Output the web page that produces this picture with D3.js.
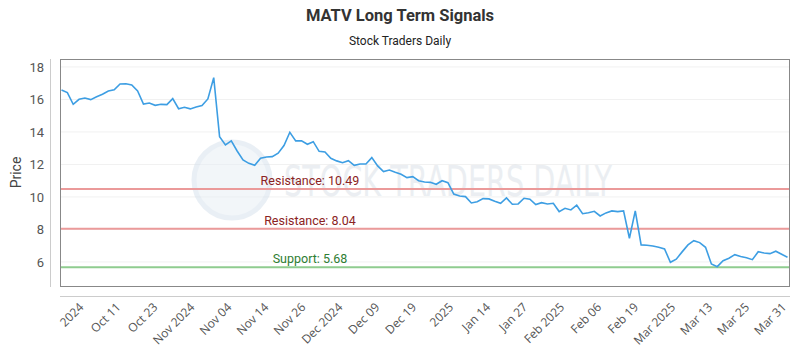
<!DOCTYPE html>
<html>
<head>
<meta charset="utf-8">
<script src="https://cdn.jsdelivr.net/npm/d3@7"></script>
<style>
  body { margin: 0; background: #fff; }
  svg { font-family: Roboto, "Open Sans", sans-serif; }
</style>
</head>
<body>
<div id="chart"></div>
<script>
// closing prices, one per trading day
const prices = [
  16.58, 16.42, 15.70, 16.01, 16.09, 15.99, 16.17, 16.32, 16.52, 16.60,
  16.95, 16.97, 16.89, 16.52, 15.72, 15.78, 15.64, 15.70, 15.68, 16.05,
  15.43, 15.52, 15.42, 15.54, 15.62, 16.03, 17.34, 13.71, 13.20, 13.45,
  12.83, 12.28, 12.07, 11.95, 12.38, 12.46, 12.48, 12.69, 13.16, 13.98,
  13.45, 13.45, 13.24, 13.40, 12.81, 12.77, 12.38, 12.22, 12.11, 12.23,
  11.95, 12.03, 12.03, 12.42, 11.91, 11.56, 11.66, 11.52, 11.40, 11.19,
  11.25, 11.00, 10.92, 10.90, 10.78, 11.00, 10.88, 10.18, 10.06, 10.02,
  9.63, 9.71, 9.90, 9.88, 9.74, 9.61, 9.94, 9.55, 9.57, 9.92,
  9.86, 9.53, 9.65, 9.57, 9.61, 9.10, 9.30, 9.20, 9.49, 8.97,
  9.03, 9.12, 8.83, 9.02, 9.14, 9.10, 9.14, 7.46, 9.14, 7.05,
  7.03, 6.98, 6.90, 6.80, 5.98, 6.17, 6.62, 7.05, 7.31, 7.19,
  6.90, 5.88, 5.71, 6.08, 6.23, 6.45, 6.33, 6.26, 6.14, 6.63,
  6.55, 6.51, 6.66, 6.47, 6.29
];

const tickLabels = [
  "2024", "Oct 11", "Oct 23", "Nov 2024", "Nov 04", "Nov 14", "Nov 26",
  "Dec 2024", "Dec 09", "Dec 19", "2025", "Jan 14", "Jan 27", "Feb 2025",
  "Feb 06", "Feb 19", "Mar 2025", "Mar 13", "Mar 25", "Mar 31"
];

const yTicks = [6, 8, 10, 12, 14, 16, 18];

const levels = [
  { label: "Resistance: 10.49", value: 10.49, kind: "resistance" },
  { label: "Resistance: 8.04", value: 8.04, kind: "resistance" },
  { label: "Support: 5.68", value: 5.68, kind: "support" }
];

const width = 800;
const height = 350;
const plot = { left: 60, right: 790, top: 59, bottom: 286 };

const lineColors = { resistance: "#eb9a9a", support: "#8fcc8f" };
const textColors = { resistance: "#8b2323", support: "#2e7d32" };

const svg = d3.select("#chart")
  .append("svg")
  .attr("width", width)
  .attr("height", height);

const x = d3.scaleLinear()
  .domain([0, prices.length - 1])
  .range([plot.left + 1.5, plot.right - 2.5]);

const y = d3.scaleLinear()
  .domain([4.52, 18.49])
  .range([plot.bottom, plot.top]);

const xTick = d3.scalePoint()
  .domain(tickLabels)
  .range([x(4), x(prices.length - 1)]);

// title
svg.append("text")
  .attr("x", width / 2)
  .attr("y", 21)
  .attr("text-anchor", "middle")
  .attr("font-size", 16.5)
  .attr("font-weight", "bold")
  .attr("fill", "#333")
  .text("MATV Long Term Signals");

svg.append("text")
  .attr("x", width / 2)
  .attr("y", 45)
  .attr("text-anchor", "middle")
  .attr("font-size", 12)
  .attr("fill", "#222")
  .text("Stock Traders Daily");

// grid
svg.append("g")
  .selectAll("line")
  .data(yTicks)
  .enter()
  .append("line")
  .attr("x1", plot.left)
  .attr("x2", plot.right)
  .attr("y1", d => y(d))
  .attr("y2", d => y(d))
  .attr("stroke", "#f1f1f1");

// watermark
const wm = svg.append("g").attr("opacity", 0.5);
wm.append("circle")
  .attr("cx", 232)
  .attr("cy", 180)
  .attr("r", 38)
  .attr("fill", "#e6eef5")
  .attr("stroke", "#d5e1ec")
  .attr("stroke-width", 5);
wm.append("text")
  .attr("x", 284)
  .attr("y", 196)
  .attr("font-size", 42)
  .attr("font-family", "'DejaVu Sans Condensed', Roboto, sans-serif")
  .attr("textLength", 328)
  .attr("lengthAdjust", "spacingAndGlyphs")
  .attr("fill", "#d8dfe6")
  .text("STOCK TRADERS DAILY");

// level lines
const levelG = svg.append("g");
levelG.selectAll("line")
  .data(levels)
  .enter()
  .append("line")
  .attr("x1", plot.left)
  .attr("x2", plot.right)
  .attr("y1", d => y(d.value))
  .attr("y2", d => y(d.value))
  .attr("stroke", d => lineColors[d.kind])
  .attr("stroke-width", 2);

levelG.selectAll("text")
  .data(levels)
  .enter()
  .append("text")
  .attr("x", 310)
  .attr("y", d => y(d.value) - 4)
  .attr("text-anchor", "middle")
  .attr("font-size", 12.5)
  .attr("fill", d => textColors[d.kind])
  .text(d => d.label);

// price line
const line = d3.line()
  .x((d, i) => x(i))
  .y(d => y(d));

svg.append("path")
  .datum(prices)
  .attr("d", line)
  .attr("fill", "none")
  .attr("stroke", "#3d9ee3")
  .attr("stroke-width", 1.6);

// plot frame
svg.append("rect")
  .attr("x", plot.left + 0.5)
  .attr("y", plot.top + 0.5)
  .attr("width", plot.right - plot.left - 1)
  .attr("height", plot.bottom - plot.top)
  .attr("fill", "none")
  .attr("stroke", "#888");

// y axis
const yAxis = d3.axisLeft(y)
  .tickValues(yTicks)
  .tickSize(0)
  .tickPadding(6);

const yG = svg.append("g")
  .attr("transform", "translate(50,0)")
  .call(yAxis);
yG.select(".domain")
  .attr("d", `M0.5,${plot.top}V${plot.bottom + 1}`)
  .attr("stroke", "#ccc");
yG.selectAll("text")
  .attr("font-size", 13)
  .attr("font-family", "Roboto, sans-serif")
  .attr("fill", "#555");

svg.append("text")
  .attr("transform", `translate(21,${(plot.top + plot.bottom) / 2}) rotate(-90)`)
  .attr("text-anchor", "middle")
  .attr("font-size", 14)
  .attr("fill", "#444")
  .text("Price");

// x axis
const xAxis = d3.axisBottom(xTick)
  .tickSize(0)
  .tickPadding(0);

const xG = svg.append("g")
  .attr("transform", "translate(0,296)")
  .call(xAxis);
xG.select(".domain")
  .attr("d", `M${plot.left},0.5H${plot.right}`)
  .attr("stroke", "#ccc");
xG.selectAll("text")
  .style("font-size", "12px")
  .style("font-family", "'Open Sans', sans-serif")
  .attr("fill", "#555")
  .attr("text-anchor", "end")
  .attr("dy", 0)
  .attr("transform", "translate(-1,12) rotate(-45)");
</script>
</body>
</html>
